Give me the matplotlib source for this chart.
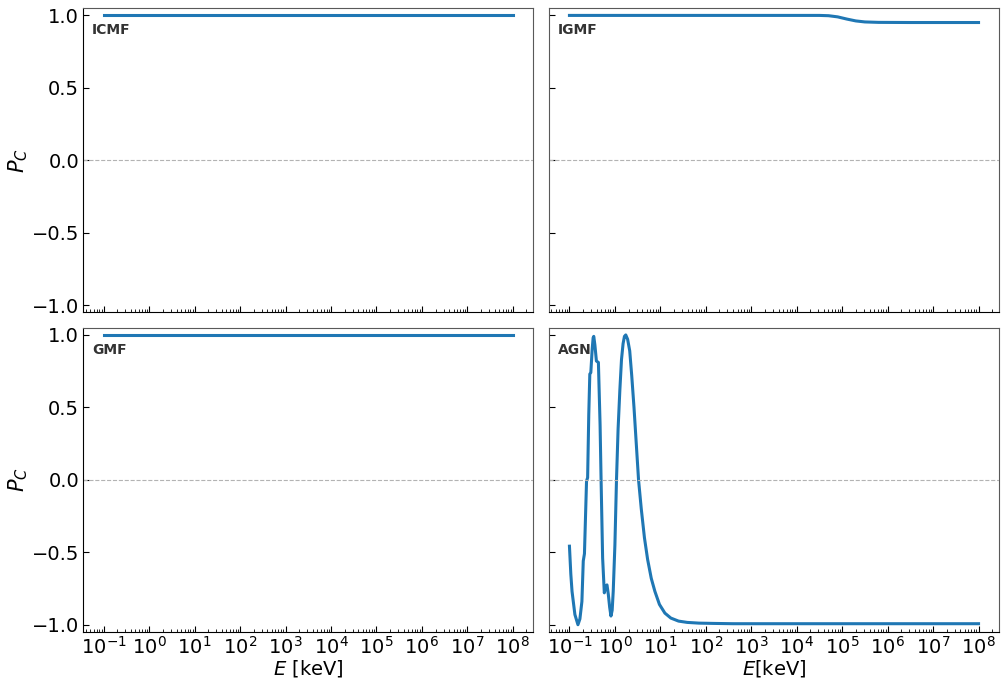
import numpy as np
import matplotlib.pyplot as plt

# flat models: log10(E/keV) and P_C
flat_logE = [-1.0, 8.0]
icmf_pc = [1.0, 1.0]
gmf_pc = [1.0, 1.0]

igmf_logE = [-1.0, 4.5, 4.7, 4.9, 5.1, 5.3, 5.5, 5.8, 6.5, 8.0]
igmf_pc = [1.0, 1.0, 0.998, 0.99, 0.975, 0.962, 0.955, 0.952, 0.951, 0.951]

agn_logE = [-1.0, -0.97, -0.943, -0.88, -0.813, -0.77, -0.726, -0.696, -0.67,
            -0.624, -0.6, -0.575, -0.552, -0.53, -0.5, -0.479, -0.465, -0.44,
            -0.407, -0.363, -0.345, -0.326, -0.304, -0.27, -0.233, -0.2,
            -0.174, -0.145, -0.115, -0.087, -0.06, -0.037, 0.0, 0.035, 0.07,
            0.109, 0.145, 0.18, 0.21, 0.239, 0.28, 0.326, 0.37, 0.42, 0.47,
            0.52, 0.58, 0.65, 0.72, 0.8, 0.88, 0.98, 1.1, 1.23, 1.4, 1.59,
            1.85, 2.17, 2.6, 8.0]
agn_pc = [-0.458, -0.65, -0.77, -0.93, -1.0, -0.96, -0.84, -0.56, -0.51,
          -0.008, 0.015, 0.45, 0.73, 0.74, 0.9, 0.98, 0.99, 0.93,
          0.82, 0.81, 0.6, 0.38, 0.0, -0.54, -0.78, -0.735,
          -0.725, -0.79, -0.88, -0.94, -0.9, -0.77, -0.45, 0.0, 0.35,
          0.62, 0.83, 0.94, 0.99, 1.0, 0.97, 0.89, 0.72, 0.5, 0.25,
          0.0, -0.2, -0.4, -0.55, -0.68, -0.77, -0.86, -0.92, -0.954, -0.975, -0.984,
          -0.989, -0.991, -0.993, -0.993]

panels = [
    ("ICMF", flat_logE, icmf_pc),
    ("IGMF", igmf_logE, igmf_pc),
    ("GMF", flat_logE, gmf_pc),
    ("AGN", agn_logE, agn_pc),
]

fig, axes = plt.subplots(2, 2, figsize=(10.03, 6.81), dpi=100, sharex=True, sharey=True)
plt.subplots_adjust(left=0.083, right=0.996, top=0.988, bottom=0.072, wspace=0.035, hspace=0.05)

for ax, (name, logE, pc) in zip(axes.flat, panels):
    E = 10.0 ** np.array(logE)
    ax.plot(E, pc, color="#1f77b4", lw=2.2)
    ax.axhline(0, color="0.7", ls="--", lw=0.8)
    ax.set_xscale("log")
    ax.set_ylim(-1.05, 1.05)
    ax.set_yticks([-1.0, -0.5, 0.0, 0.5, 1.0])
    ax.set_xticks(10.0 ** np.arange(-1, 9))
    ax.xaxis.set_minor_locator(plt.matplotlib.ticker.LogLocator(base=10, subs=np.arange(2, 10), numticks=20))
    ax.tick_params(which="both", direction="in", labelsize=14)
    ax.tick_params(which="major", length=4, pad=3)
    ax.tick_params(which="minor", length=2)
    ax.text(0.02, 0.95, name, transform=ax.transAxes, fontsize=10,
            fontweight="bold", color="#333333", va="top", ha="left")
    for s in ax.spines.values():
        s.set_color("0.35")
    ax.spines["bottom"].set_color("black")

axes[0, 0].spines["left"].set_color("black")
axes[1, 0].spines["left"].set_color("black")

axes[0, 0].set_ylabel(r"$P_C$", fontsize=15, labelpad=1)
axes[1, 0].set_ylabel(r"$P_C$", fontsize=15, labelpad=1)
axes[1, 0].set_xlabel(r"$E$ [keV]", fontsize=14, labelpad=0)
axes[1, 1].set_xlabel(r"$E$[keV]", fontsize=14, labelpad=0)

fig.savefig("out.png", dpi=100)
